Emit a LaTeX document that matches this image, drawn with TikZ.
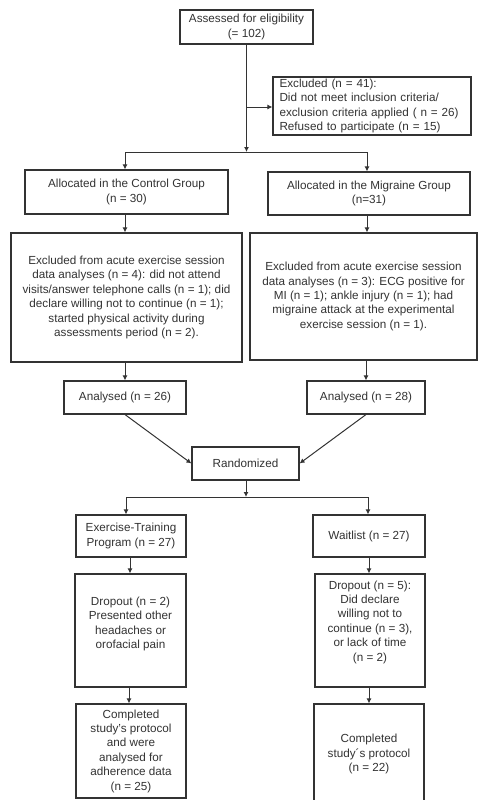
\documentclass[tikz,border=0pt]{standalone}
\usepackage{fontspec}
\setmainfont{Liberation Sans}
\usetikzlibrary{arrows.meta}
\begin{document}
\begin{tikzpicture}[x=1pt,y=-1pt,
  box/.style={draw=black!80, line width=1.1pt, inner sep=0pt, fill=white},
  txt/.style={text=black!80, font=\fontsize{11.7pt}{14.4pt}\selectfont, align=center, inner sep=0pt},
  arr/.style={draw=black!80, line width=1pt, -{Latex[length=5pt,width=5pt]}},
  ln/.style={draw=black!80, line width=1pt}]
\useasboundingbox (0,0) rectangle (480,800);
% boxes
\node[box, txt, minimum width=133pt, minimum height=34pt] (assess) at (246.5,27) {Assessed for eligibility\\(= 102)};
\node[box, txt, align=left, text width=185pt, minimum width=198pt, minimum height=58pt] (excl) at (372,106)
  {Excluded (n = 41):\\\makebox[185pt][s]{Did not meet inclusion criteria/}\\\makebox[185pt][s]{exclusion criteria applied ( n = 26)}\\Refused to participate (n = 15)};
\node[box, txt, minimum width=203pt, minimum height=44pt] (ctrl) at (126.5,192) {Allocated in the Control Group\\(n = 30)};
\node[box, txt, minimum width=202pt, minimum height=43pt] (migr) at (369,193.5) {Allocated in the Migraine Group\\(n=31)};
\node[box, txt, minimum width=231pt, minimum height=129pt] (exclc) at (126.5,297.5)
  {Excluded from acute exercise session\\data analyses (n = 4): did not attend\\visits/answer telephone calls (n = 1); did\\declare willing not to continue (n = 1);\\started physical activity during\\assessments period (n = 2).};
\node[box, txt, minimum width=227pt, minimum height=127pt] (exclm) at (363.5,296.5)
  {Excluded from acute exercise session\\data analyses (n = 3): ECG positive for\\MI (n = 1); ankle injury (n = 1); had\\migraine attack at the experimental\\exercise session (n = 1).};
\node[box, txt, minimum width=122pt, minimum height=33pt] (anac) at (125,397.5) {Analysed (n = 26)};
\node[box, txt, minimum width=118pt, minimum height=33pt] (anam) at (366,397.5) {Analysed (n = 28)};
\node[box, txt, minimum width=107pt, minimum height=33pt] (rand) at (245.5,463.5) {Randomized};
\node[box, txt, minimum width=110pt, minimum height=42pt] (ex) at (131,536) {Exercise-Training\\Program (n = 27)};
\node[box, txt, minimum width=112pt, minimum height=42pt] (wait) at (369,536) {Waitlist (n = 27)};
\node[box, minimum width=111pt, minimum height=113pt] (dropc) at (130.5,630.5) {};
\node[txt] (dropct) at (130.5,624) {Dropout (n = 2)\\Presented other\\headaches or\\orofacial pain};
\node[box, minimum width=110pt, minimum height=113pt] (dropw) at (370,630.5) {};
\node[txt] (dropwt) at (370,622) {Dropout (n = 5):\\Did declare\\willing not to\\continue (n = 3),\\or lack of time\\(n = 2)};
\node[box, txt, minimum width=110pt, minimum height=94pt] (compc) at (131,751) {Completed\\study's protocol\\and were\\analysed for\\adherence data\\(n = 25)};
\node[box, minimum width=110pt, minimum height=101pt] (compw) at (369,754.5) {};
\node[txt] (compwt) at (369,754) {Completed\\study´s protocol\\(n = 22)};
% column coordinates
\coordinate (cL) at (125,0);
\coordinate (cR) at (367,0);
\coordinate (cM) at (246.5,0);
\coordinate (j1) at (246.5,152);
\coordinate (jx) at (246.5,107);
\coordinate (j2) at (246,497);
% connectors
\draw[arr] (assess.south) -- (j1);
\draw[arr] (jx) -- (jx -| excl.west);
\draw[ln] (j1 -| cL) -- (j1 -| cR);
\draw[arr] (j1 -| cL) -- (ctrl.north -| cL);
\draw[arr] (j1 -| cR) -- (migr.north -| cR);
\draw[arr] (ctrl.south -| cL) -- (exclc.north -| cL);
\draw[arr] (migr.south -| cR) -- (exclm.north -| cR);
\draw[arr] (exclc.south -| cL) -- (anac.north -| cL);
\draw[arr] (exclm.south -| anam.north) -- (anam.north);
\draw[arr] (anac.south) -- (rand.west);
\draw[arr] (anam.south) -- (rand.east);
\draw[arr] (rand.south -| j2) -- (j2);
\draw[ln] (j2 -| 126,0) -- (j2 -| 368,0);
\draw[arr] (j2 -| 126,0) -- (ex.north -| 126,0);
\draw[arr] (j2 -| 368,0) -- (wait.north -| 368,0);
\draw[arr] (ex.south -| 130,0) -- (dropc.north -| 130,0);
\draw[arr] (wait.south -| 369,0) -- (dropw.north -| 369,0);
\draw[arr] (dropc.south -| 129,0) -- (compc.north -| 129,0);
\draw[arr] (dropw.south -| 369,0) -- (compw.north -| 369,0);
\end{tikzpicture}
\end{document}
